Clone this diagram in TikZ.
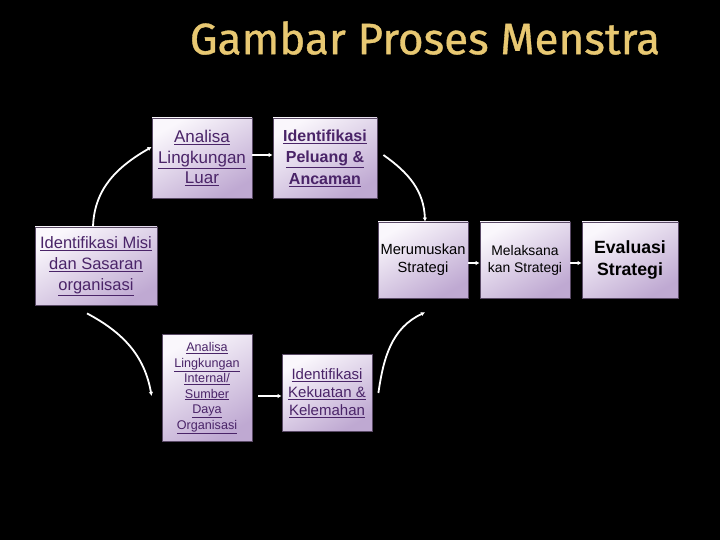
\documentclass[tikz,border=0pt]{standalone}
\usepackage{fontspec}
\setmainfont{Liberation Sans}
\newfontfamily\titlefont[FakeBold=0.8]{Fira Sans}
\usetikzlibrary{arrows.meta}
\definecolor{gold}{HTML}{E8C872}
\definecolor{linkc}{HTML}{4A2468}
\definecolor{boxlight}{HTML}{FAF7FC}
\definecolor{boxdark}{HTML}{BFA9D2}
\definecolor{boxedge}{HTML}{5A4A66}
\tikzset{
  procbox/.style={draw=boxedge, line width=0.8pt, top color=boxlight, bottom color=boxdark, shading angle=30,
    align=center, inner sep=1pt, font=\fontsize{14}{17}\selectfont},
  flow/.style={draw=white, line width=1.8pt, -{Latex[length=4pt,width=4.5pt]}},
  lk/.style={text=linkc}
}
\newcommand{\ul}[1]{\underline{#1}}
\begin{document}
\begin{tikzpicture}[x=1pt,y=-1pt]
\fill[black] (0,0) rectangle (720,540);
\useasboundingbox (0,0) rectangle (720,540);
\node[gold, font=\titlefont\fontsize{44}{50}\selectfont] (title) at (425,38) {Gambar Proses Menstra};

\node[procbox, lk, minimum width=100pt, minimum height=80pt, font=\fontsize{17}{20.5}\selectfont] (luar) at (202,158)
  {\ul{Analisa}\\\ul{Lingkungan}\\\ul{Luar}};
\node[procbox, lk, minimum width=104pt, minimum height=80pt, font=\bfseries\fontsize{16}{21.5}\selectfont] (peluang) at (325,158)
  {\ul{Identifikasi}\\\ul{Peluang \&}\\\ul{Ancaman}};
\node[procbox, lk, minimum width=122pt, minimum height=78pt, font=\fontsize{16.5}{21}\selectfont] (misi) at (96,266)
  {\ul{Identifikasi Misi}\\\ul{dan Sasaran}\\\ul{organisasi}};
\node[procbox, minimum width=90pt, minimum height=76pt, font=\fontsize{14.7}{18}\selectfont] (rumus) at (423,260)
  {Merumuskan\\Strategi};
\node[procbox, minimum width=90pt, minimum height=76pt, font=\fontsize{13.9}{17}\selectfont] (laksana) at (525,260)
  {Melaksana\\kan Strategi};
\node[procbox, minimum width=96pt, minimum height=76pt, font=\bfseries\fontsize{17.7}{22}\selectfont] (evaluasi) at (630,260)
  {Evaluasi\\Strategi};
\node[procbox, lk, minimum width=90pt, minimum height=107pt, font=\fontsize{12.6}{15.5}\selectfont] (internal) at (207,388)
  {\ul{Analisa}\\\ul{Lingkungan}\\\ul{Internal/}\\\ul{Sumber}\\\ul{Daya}\\\ul{Organisasi}};
\node[procbox, lk, minimum width=90pt, minimum height=77pt, font=\fontsize{15}{18}\selectfont] (kuat) at (327,393)
  {\ul{Identifikasi}\\\ul{Kekuatan \&}\\\ul{Kelemahan}};

\draw[flow] ([xshift=-3pt]misi.north) to[out=88,in=210] ([yshift=11pt]luar.west);
\draw[flow] ([yshift=3pt]luar.east) -- ([yshift=3pt]peluang.west);
\draw[flow] ([xshift=6pt,yshift=3pt]peluang.east) to[out=-35,in=92] ([xshift=2pt]rumus.north);
\draw[flow] ([xshift=-9pt,yshift=-8pt]misi.south) to[out=-28,in=100] ([xshift=-10pt,yshift=-8pt]internal.west);
\draw[flow] ([xshift=6pt,yshift=-8pt]internal.east) -- ([yshift=-3pt]kuat.west);
\draw[flow] ([xshift=6pt]kuat.east) to[out=82,in=205] ([xshift=2pt,yshift=-14pt]rumus.south);
\draw[flow] ([yshift=-3pt]rumus.east) -- ([yshift=-3pt]laksana.west);
\draw[flow] ([yshift=-3pt]laksana.east) -- ([yshift=-3pt]evaluasi.west);
\end{tikzpicture}
\end{document}
